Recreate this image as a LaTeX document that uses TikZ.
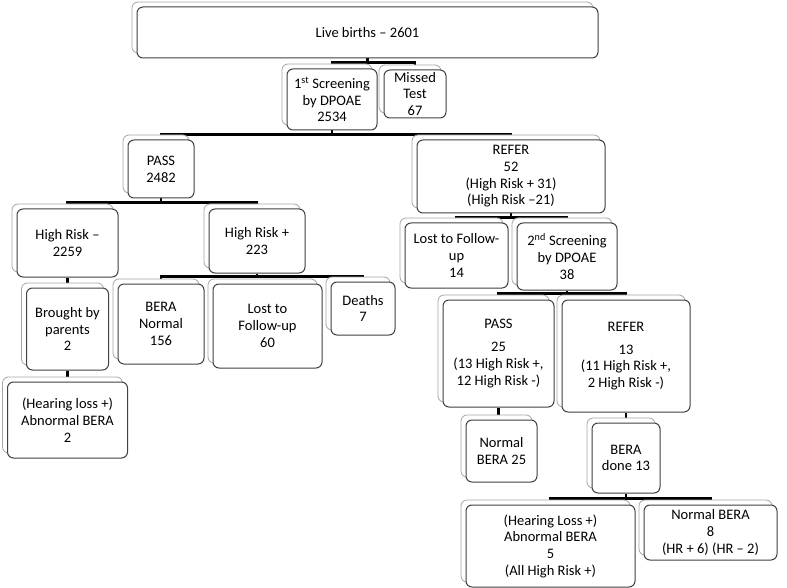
\documentclass[tikz,border=0pt]{standalone}
\usepackage{fontspec}
\setmainfont{Carlito}
\usetikzlibrary{shadows, backgrounds}

\begin{document}
\begin{tikzpicture}[
    x=1pt, y=-1pt,
    box/.style 2 args={draw=black!75, line width=1pt, rounded corners=6pt, fill=white,
                align=center, inner sep=1pt, minimum width=#1pt, minimum height=#2pt,
                font=\fontsize{14.5}{16.7}\selectfont,
                general shadow={shadow xshift=-5pt, shadow yshift=5pt, fill=white,
                                draw=black!35, line width=0.8pt}},
    link/.style={line width=2.2pt, black},
]
\useasboundingbox (0,0) rectangle (787,588);
% === Births and first screening ===
\node[box={461}{51}] (births) at (367.5,32.5) {Live births -- 2601};
\node[box={90}{61}] (scr1) at (332,99.5) {1\textsuperscript{st} Screening\\by DPOAE\\2534};
\node[box={62}{48}] (missed) at (415,94) {Missed\\Test\\67};
\node[box={66}{58}] (pass1) at (161,169) {PASS\\2482};
\node[box={188}{73}] (refer1) at (511,176.5) {REFER\\52\\(High Risk + 31)\\(High Risk --21)};
% === PASS branch: split by risk ===
\node[box={101}{68}] (hrneg) at (67.5,243) {High Risk --\\2259};
\node[box={96}{64}] (hrpos) at (257,241) {High Risk +\\223};
\node[box={82}{82}] (brought) at (67.5,329) {Brought by\\parents\\2};
\node[box={120}{76}] (abnleft) at (67.5,420) {(Hearing loss +)\\Abnormal BERA\\2};
\node[box={86}{80}] (beranorm) at (161,324) {BERA\\Normal\\156};
\node[box={109}{84}] (ltfu1) at (267.5,326) {Lost to\\Follow-up\\60};
\node[box={64}{53}] (deaths) at (363,308.5) {Deaths\\7};
% === REFER branch: second screening and BERA ===
\node[box={103}{65}] (ltfu2) at (456.5,255.5) {Lost to Follow-\\up\\14};
\node[box={100}{67}] (scr2) at (567,256.5) {2\textsuperscript{nd} Screening\\by DPOAE\\38};
\node[box={111}{107}] (pass2) at (498.5,353.5) {PASS\\[6pt]25\\(13 High Risk +,\\12 High Risk -)};
\node[box={128}{112}] (refer2) at (626,356) {REFER\\[6pt]13\\(11 High Risk +,\\2 High Risk -)};
\node[box={71}{62}] (normbera) at (501.5,451) {Normal\\BERA 25};
\node[box={68}{70}] (beradone) at (626,458) {BERA\\done 13};
\node[box={169}{82}] (abnright) at (550.5,546) {(Hearing Loss +)\\Abnormal BERA\\5\\(All High Risk +)};
\node[box={133}{55}] (normbera8) at (710.5,532.5) {Normal BERA\\8\\(HR + 6) (HR -- 2)};
% === Tree connectors, kept behind the boxes ===
\begin{scope}[on background layer]
\draw[link] (births.south) -- ++(0,4) -| (scr1.north);
\draw[link] (births.south) -- ++(0,4) -| (missed.north);
\draw[link] (scr1.south) -- ++(0,4) -| (pass1.north);
\draw[link] (scr1.south) -- ++(0,4) -| (refer1.north);
\draw[link] (pass1.south) -- ++(0,4) -| (hrneg.north);
\draw[link] (pass1.south) -- ++(0,4) -| (hrpos.north);
\draw[link] (hrneg) -- (brought);
\draw[link] (brought) -- (abnleft);
\draw[link] (hrpos.south) -- ++(0,3) -| (beranorm.north);
\draw[link] (hrpos.south) -- ++(0,3) -| (deaths.north);
\draw[link] (refer1.south) -- ++(0,4) -| (ltfu2.north);
\draw[link] (refer1.south) -- ++(0,4) -| (scr2.north);
\draw[link] (scr2.south) -- ++(0,3) -| (pass2.north);
\draw[link] (scr2.south) -- ++(0,3) -| (refer2.north);
\draw[link] (pass2.south) -- (pass2.south |- normbera.north);
\draw[link] (refer2) -- (beradone);
\draw[link] (beradone.south) -- ++(0,5) -| (abnright.north);
\draw[link] (beradone.south) -- ++(0,5) -| (normbera8.north);
\end{scope}
\end{tikzpicture}
\end{document}
